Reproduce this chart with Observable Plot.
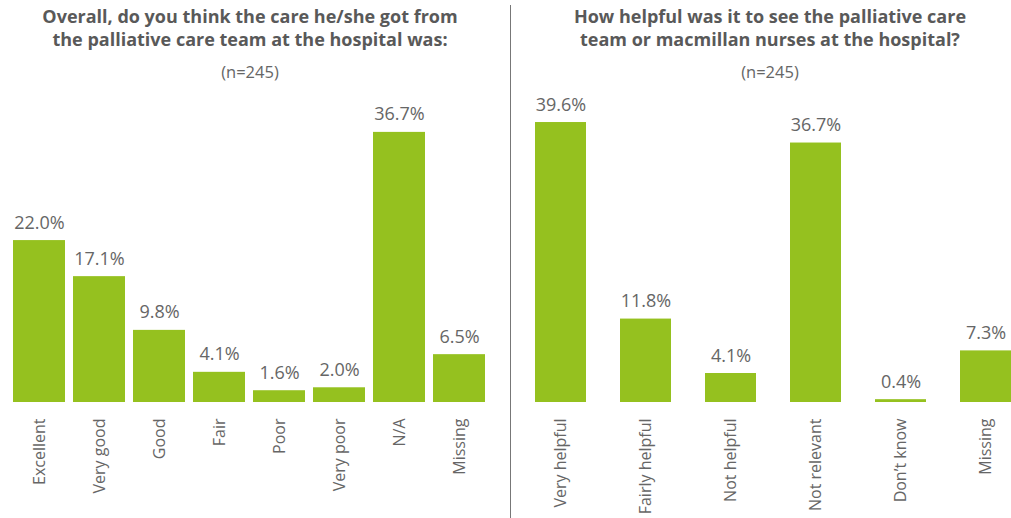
<!DOCTYPE html>
<html>
<head>
<meta charset="utf-8">
<script src="https://cdn.jsdelivr.net/npm/d3@7"></script>
<script src="https://cdn.jsdelivr.net/npm/@observablehq/plot@0.6"></script>
<style>
  body { margin: 0; background: #fff; font-family: "Open Sans", sans-serif; }
  #wrap { position: relative; width: 1011px; height: 518px; overflow: hidden; }
  .panel { position: absolute; top: 0; height: 518px; }
  .head { position: absolute; top: 0; height: 90px; text-align: center; color: #595959; }
  .title { font-weight: 700; font-size: 18px; line-height: 23px; margin-top: 5px; }
  .sub { font-size: 16.5px; margin-top: 9px; color: #666; }
  #divider { position: absolute; left: 510px; top: 5px; width: 1px; height: 513px; background: #777; }
</style>
</head>
<body>
<div id="wrap">
  <div class="head" style="left:0;width:500px;">
    <div class="title">Overall, do you think the care he/she got from<br>the palliative care team at the hospital was:</div>
    <div class="sub">(n=245)</div>
  </div>
  <div class="head" style="left:522px;width:496px;">
    <div class="title">How helpful was it to see the palliative care<br>team or macmillan nurses at the hospital?</div>
    <div class="sub">(n=245)</div>
  </div>
  <div id="divider"></div>
  <div class="panel" id="left" style="left:0;top:90px;"></div>
  <div class="panel" id="right" style="left:511px;top:90px;"></div>
</div>
<script>
const careCategories = ["Excellent", "Very good", "Good", "Fair", "Poor", "Very poor", "N/A", "Missing"];
const careValues = [22.0, 17.1, 9.8, 4.1, 1.6, 2.0, 36.7, 6.5];

const helpCategories = ["Very helpful", "Fairly helpful", "Not helpful", "Not relevant", "Don\u2019t know", "Missing"];
const helpValues = [39.6, 11.8, 4.1, 36.7, 0.4, 7.3];

const barColor = "#95c11f";
const textColor = "#595959";

function panel(cats, vals, opts) {
  const data = cats.map((c, i) => ({cat: c, val: vals[i]}));
  return Plot.plot({
    width: opts.width,
    height: 428,
    marginTop: opts.marginTop,
    marginBottom: 116,
    marginLeft: opts.marginLeft,
    marginRight: opts.marginRight,
    style: {fontFamily: "'Open Sans', sans-serif", color: textColor, background: "transparent", overflow: "visible"},
    x: {domain: cats, paddingInner: opts.pi, paddingOuter: opts.po, label: null},
    y: {domain: [0, 40], axis: null},
    marks: [
      Plot.barY(data, {x: "cat", y: "val", fill: barColor}),
      Plot.text(data, {x: "cat", y: "val", text: d => d.val.toFixed(1) + "%", dy: -12, lineAnchor: "bottom", fontSize: 18, fill: "#666"}),
      Plot.axisX({tickSize: 0, tickPadding: 16, tickRotate: -90, fontSize: 16, fill: "#666", label: null})
    ]
  });
}

document.getElementById("left").appendChild(panel(careCategories, careValues, {width: 511, marginTop: 17.6, marginLeft: 6.8, marginRight: 21, pi: 0.14, po: 0.07}));
document.getElementById("right").appendChild(panel(helpCategories, helpValues, {width: 500, marginTop: 29.2, marginLeft: 24, marginRight: 0, pi: 0.4, po: 0}));
</script>
</body>
</html>
